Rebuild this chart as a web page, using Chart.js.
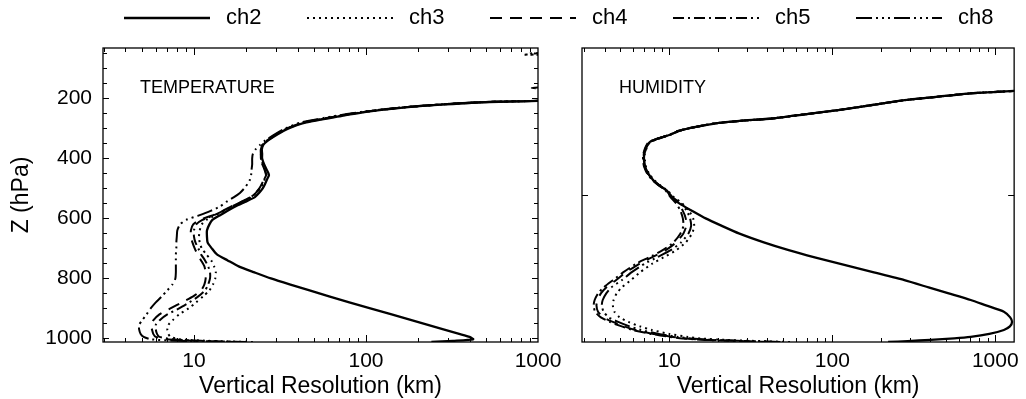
<!DOCTYPE html>
<html><head><meta charset="utf-8">
<script src="https://cdn.jsdelivr.net/npm/chart.js@4.4.1/dist/chart.umd.min.js"></script>
<style>
html,body{margin:0;padding:0;background:#fff;}
#wrap{position:relative;width:1026px;height:399px;background:#fff;}
canvas{position:absolute;left:0;top:0;}
</style></head><body>
<div id="wrap"><canvas id="c1" width="1026" height="399"></canvas><canvas id="c2" width="1026" height="399"></canvas></div>
<script>
// ---------------- DATA ----------------
const seriesNames = ['ch2', 'ch3', 'ch4', 'ch5', 'ch8'];
const panelTitles = ['TEMPERATURE', 'HUMIDITY'];

// Temperature panel: pressure levels (hPa) and vertical resolution (km) per channel
const tempPressure = [1012,1008,1003,995,985,970,955,940,920,900,880,860,840,820,800,780,760,740,720,700,680,660,640,620,605,590,575,560,545,530,515,500,485,470,455,440,420,400,385,370,355,340,320,300,280,260,245,230,220,212,205,190,175,165,155,140,100,70,58,54,50,40];
const tempCh2 = [240,320,420,400,348,282,229,186,141,106,80,61,47,36,28,22.5,18.2,15.7,13.6,12.7,12.0,11.9,11.9,12.3,12.8,14.1,15.6,17.4,19.8,22.5,23.9,25.1,25.9,26.6,27.3,26.6,25.6,24.9,24.9,24.8,25.3,27.0,30.5,35.5,45,70,100,170,290,520,1800,5000,5000,5000,5000,5000,5000,5000,5000,5000,5000,5000];
const tempCh3 = [22,12,8.3,7.3,7.1,7.0,7.1,7.5,8.2,9.3,10.3,11.3,12.3,12.9,13.3,13.4,13.1,12.6,11.8,11.1,10.8,10.7,10.8,11.1,11.8,13.3,15.0,16.8,19.0,21.5,23.0,24.3,25.1,25.8,26.4,26.0,25.2,24.6,24.6,24.6,25.1,26.8,30.2,35.0,44,68,98,166,282,505,1700,5000,5000,5000,5000,5000,5000,5000,5000,820,5000,5000];
const tempCh4 = [18,10,7.0,6.0,5.8,5.7,5.6,5.8,6.3,7.3,8.5,9.9,11.0,11.5,11.7,11.7,11.5,11.0,10.5,10.1,9.8,9.6,9.6,9.9,10.8,12.8,14.7,16.5,18.8,21.2,22.8,24.0,24.8,25.5,26.2,25.8,25.0,24.4,24.5,24.5,25.0,26.6,30.0,34.8,43.5,67,97,165,280,500,1700,5000,5000,5000,5000,5000,5000,5000,5000,5000,5000,5000];
const tempCh5 = [20,11,7.5,6.3,6.1,6.0,6.0,6.3,7.0,8.2,9.4,10.6,11.6,12.1,12.4,12.4,12.1,11.6,11.0,10.6,10.2,10.0,10.0,10.3,11.2,13.0,14.8,16.6,18.9,21.3,22.9,24.1,24.9,25.6,26.3,25.9,25.1,24.5,24.5,24.5,25.0,26.7,30.0,34.9,43.8,67,97,165,280,500,1700,5000,5000,920,5000,5000,5000,5000,5000,5000,5000,5000];
const tempCh8 = [15,8,5.6,5.1,4.9,4.8,4.8,5.0,5.3,5.6,6.0,6.5,7.0,7.5,7.8,7.85,7.85,7.85,7.85,7.9,7.9,7.95,8.0,8.3,9.0,10.7,12.5,14.2,15.4,17.0,18.5,19.6,20.5,21.2,21.5,21.6,21.8,21.8,22.0,22.8,24.2,26.0,29.5,34.0,42,64,94,160,270,490,1650,5000,5000,5000,5000,5000,5000,5000,5000,5000,900,5000];

// Humidity panel
const humPressure = [1012,1009,1005,1000,995,985,972,960,945,930,911,890,872,850,830,806,780,750,730,706,680,650,625,600,575,550,530,506,490,472,450,428,410,389,370,355,345,335,322,308,295,283,275,267,253,239,222,206,195,183,178,175,172,160];
const humCh2 = [220,290,400,560,707,920,1130,1230,1268,1235,1130,877,707,518,390,277,180,109,78,54,38,26.7,21,16.7,13.8,11.5,10.4,9.55,8.7,7.95,7.4,7.1,7.0,7.0,7.15,7.35,7.6,8.4,10,11.5,14.5,19.3,27,42.7,68,109,176,277,434,707,1035,1300,1700,5000];
const humCh3 = [55,36,22,15.5,13,10,7.8,6.6,5.6,4.95,4.6,4.5,4.55,4.75,5.1,5.8,6.6,7.9,9.2,11.0,12.6,13.8,14.2,14.0,13.2,12.0,10.7,9.7,8.8,8.05,7.5,7.2,7.1,7.05,7.2,7.4,7.65,8.45,10,11.5,14.5,19.3,27,42.7,68,109,176,277,434,707,1035,1300,1700,5000];
const humCh4 = [45,29,17.5,12.5,10.5,8.0,6.2,5.3,4.5,3.95,3.65,3.57,3.62,3.8,4.1,4.7,5.4,6.6,7.8,9.5,11.0,12.2,12.7,12.6,12.1,11.3,10.3,9.5,8.65,7.9,7.35,7.05,6.95,6.95,7.1,7.3,7.55,8.4,10,11.5,14.5,19.3,27,42.5,68,109,176,277,434,707,1035,1300,1700,5000];
const humCh5 = [42,27,16.5,12,10.1,7.7,5.95,5.1,4.3,3.8,3.5,3.43,3.48,3.65,3.95,4.5,5.2,6.3,7.5,9.1,10.6,11.7,12.2,12.1,11.7,11.0,10.2,9.45,8.6,7.85,7.3,7.0,6.9,6.9,7.05,7.25,7.5,8.35,9.9,11.4,14.4,19.2,27,42.5,68,109,176,277,434,707,1035,1300,1700,5000];
const humCh8 = [48,31,19,13.5,11.3,8.6,6.7,5.7,4.85,4.25,3.95,3.85,3.9,4.1,4.4,5.1,5.85,7.1,8.4,10.2,11.8,13.1,13.6,13.4,12.8,11.8,10.5,9.6,8.7,7.95,7.4,7.1,7.0,7.0,7.15,7.35,7.6,8.4,10,11.5,14.5,19.3,27,42.7,68,109,176,277,434,707,1035,1300,1700,5000];

// Axes
const tempXRange = [2.96, 1000];
const humXRange = [2.91, 1306];
const pressureRange = [32, 1012];
const xTickValues = [3,4,5,6,7,8,9,10,20,30,40,50,60,70,80,90,100,200,300,400,500,600,700,800,900,1000];
const xLabelValues = [10, 100, 1000];
const yTickValuesLeft = [50,100,150,200,250,300,350,400,450,500,550,600,650,700,750,800,850,900,950,1000];
const yLabelValues = [200, 400, 600, 800, 1000];
const yTickValuesRight = [522];

// ---------------- STYLE ----------------
const FONT = "'Liberation Sans', Arial, Helvetica, sans-serif";
Chart.defaults.font.family = FONT;
Chart.defaults.color = '#000';
const lineStyles = [
  { borderDash: [], borderWidth: 2.3 },
  { borderDash: [2, 4], borderWidth: 2 },
  { borderDash: [12, 8], borderWidth: 2 },
  { borderDash: [11, 4, 2, 4], borderWidth: 2 },
  { borderDash: [16, 4, 2, 4, 2, 4, 2, 4], borderWidth: 2 }
];

const decoPlugin = {
  id: 'panelDeco',
  afterDraw(chart, args, opts) {
    const { ctx, chartArea: a, scales: { x, y } } = chart;
    ctx.save();
    ctx.strokeStyle = '#000';
    ctx.lineWidth = 1.3;
    ctx.strokeRect(a.left, a.top, a.right - a.left, a.bottom - a.top);
    ctx.lineWidth = 1;
    ctx.beginPath();
    x.ticks.forEach(t => {
      const px = Math.round(x.getPixelForValue(t.value)) + 0.5;
      if (px < a.left || px > a.right) return;
      const len = xLabelValues.includes(t.value) ? 7 : 4;
      ctx.moveTo(px, a.bottom); ctx.lineTo(px, a.bottom - len);
      ctx.moveTo(px, a.top); ctx.lineTo(px, a.top + len);
    });
    y.ticks.forEach(t => {
      const py = Math.round(y.getPixelForValue(t.value)) + 0.5;
      if (py < a.top || py > a.bottom) return;
      const len = (yLabelValues.includes(t.value) || opts.bigY) ? 6 : 4;
      ctx.moveTo(a.left, py); ctx.lineTo(a.left + len, py);
      ctx.moveTo(a.right, py); ctx.lineTo(a.right - len, py);
    });
    ctx.stroke();
    ctx.fillStyle = '#000';
    ctx.font = '18px ' + FONT;
    ctx.textBaseline = 'middle';
    ctx.textAlign = 'left';
    ctx.fillText(opts.label, a.left + 37, a.top + 40);
    ctx.restore();
  }
};

const legendPlugin = {
  id: 'topLegend',
  afterDraw(chart) {
    const ctx = chart.ctx;
    const X0 = 124, PITCH = 183, LEN = 86, Y = 18;
    ctx.save();
    chart.data.datasets.forEach((ds, i) => {
      const x0 = X0 + i * PITCH;
      ctx.strokeStyle = '#000';
      ctx.lineWidth = ds.borderWidth;
      ctx.lineCap = 'butt';
      ctx.setLineDash(ds.borderDash);
      ctx.beginPath(); ctx.moveTo(x0, Y); ctx.lineTo(x0 + LEN, Y); ctx.stroke();
      ctx.setLineDash([]);
      ctx.fillStyle = '#000';
      ctx.font = '22px ' + FONT;
      ctx.textBaseline = 'middle';
      ctx.textAlign = 'left';
      ctx.fillText(ds.label, x0 + LEN + 16, Y);
    });
    ctx.restore();
  }
};

function makeChart(canvasId, pressure, seriesValues, cfg, extraPlugins) {
  const datasets = seriesValues.map((vals, k) => ({
    label: seriesNames[k],
    data: pressure.map((p, i) => ({ x: vals[i], y: p })),
    borderColor: '#000',
    backgroundColor: '#000',
    borderWidth: lineStyles[k].borderWidth,
    borderDash: lineStyles[k].borderDash,
    borderCapStyle: 'butt',
    borderJoinStyle: 'round',
    pointRadius: 0,
    tension: 0.2,
    fill: false
  }));
  return new Chart(document.getElementById(canvasId), {
    type: 'line',
    data: { datasets },
    options: {
      responsive: false,
      animation: false,
      devicePixelRatio: 1,
      layout: { padding: cfg.padding },
      elements: { line: { capBezierPoints: false } },
      plugins: {
        legend: { display: false },
        tooltip: { enabled: false },
        panelDeco: { label: cfg.title, bigY: !cfg.yLabels }
      },
      scales: {
        x: {
          type: 'logarithmic',
          min: cfg.xRange[0], max: cfg.xRange[1],
          grid: { display: false, drawTicks: false },
          border: { display: false },
          afterBuildTicks: s => { s.ticks = xTickValues.filter(v => v >= cfg.xRange[0] && v <= cfg.xRange[1]).map(v => ({ value: v })); },
          afterFit: s => { s.height = 57; },
          ticks: {
            autoSkip: false, maxRotation: 0, minRotation: 0, padding: 7, color: '#000',
            font: { family: FONT, size: 21 },
            callback: v => xLabelValues.includes(v) ? String(v) : ''
          },
          title: { display: true, text: 'Vertical Resolution (km)', color: '#000', font: { family: FONT, size: 23 }, padding: { top: 0, bottom: -1 } }
        },
        y: {
          type: 'linear', reverse: true,
          min: pressureRange[0], max: pressureRange[1],
          grid: { display: false, drawTicks: false },
          border: { display: false },
          afterBuildTicks: s => { s.ticks = cfg.yTicks.map(v => ({ value: v })); },
          afterFit: s => { s.width = cfg.yWidth; },
          ticks: {
            display: cfg.yLabels, autoSkip: false, padding: 11, color: '#000',
            font: { family: FONT, size: 21 },
            callback: v => yLabelValues.includes(v) ? String(v) : ''
          },
          title: { display: cfg.yLabels, text: 'Z (hPa)', color: '#000', font: { family: FONT, size: 23 }, padding: { top: 8, bottom: 0 } }
        }
      }
    },
    plugins: [decoPlugin].concat(extraPlugins || [])
  });
}

makeChart('c1', tempPressure, [tempCh2, tempCh3, tempCh4, tempCh5, tempCh8], {
  padding: { left: 0, top: 48, right: 488, bottom: 0 },
  xRange: tempXRange, yTicks: yTickValuesLeft, yLabels: true, yWidth: 103, title: panelTitles[0]
}, [legendPlugin]);

makeChart('c2', humPressure, [humCh2, humCh3, humCh4, humCh5, humCh8], {
  padding: { left: 582, top: 48, right: 9, bottom: 0 },
  xRange: humXRange, yTicks: yTickValuesRight, yLabels: false, yWidth: 0, title: panelTitles[1]
});
</script>
</body></html>
